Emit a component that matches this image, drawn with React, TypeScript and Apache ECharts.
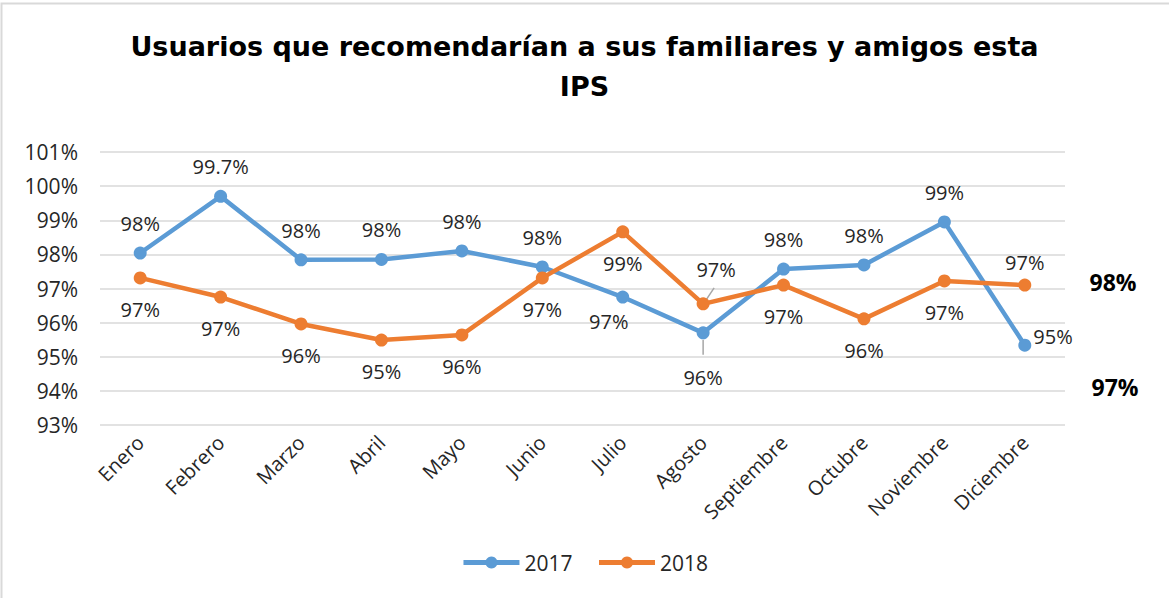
import React, { useEffect, useRef } from "react";
import * as echarts from "echarts";

const months = ["Enero", "Febrero", "Marzo", "Abril", "Mayo", "Junio", "Julio", "Agosto", "Septiembre", "Octubre", "Noviembre", "Diciembre"];
const values2017 = [98.04, 99.7, 97.84, 97.85, 98.1, 97.63, 96.75, 95.7, 97.57, 97.69, 98.95, 95.34];
const values2018 = [97.31, 96.75, 95.96, 95.49, 95.64, 97.31, 98.66, 96.55, 97.1, 96.11, 97.22, 97.1];
const yTicks = [93, 94, 95, 96, 97, 98, 99, 100, 101];
const sideNotes = ["98%", "97%"];
const titleText = "Usuarios que recomendarían a sus familiares y amigos esta\nIPS";

const FONT = "'Open Sans', 'Noto Sans', sans-serif";
const TITLE_FONT = "'DejaVu Sans', sans-serif";
const BLUE = "#5B9BD5";
const ORANGE = "#ED7D31";
const TXT = "#262626";

export default function App() {
  const ref = useRef<HTMLDivElement>(null);
  useEffect(() => {
    if (!ref.current) return;
    const chart = echarts.init(ref.current, null, { renderer: "svg" });
    const fmt = (v: number, dec = 0) => v.toFixed(dec) + "%";

    const d2017 = values2017.map((v, i) => {
      const item: any = { value: v };
      if (i === 1) item.label = { formatter: () => fmt(v, 1) };
      if (i === 6) item.label = { position: "bottom", distance: 8, offset: [-14, 0] };
      if (i === 7) item.label = { position: "bottom", distance: 28 };
      if (i === 11) item.label = { position: "right", distance: 2, offset: [0, -9] };
      return item;
    });
    const d2018 = values2018.map((v, i) => {
      const item: any = { value: v };
      if (i === 7) item.label = { position: "top", distance: 18, offset: [13, 0] };
      if (i === 11) item.label = { position: "top", distance: 6 };
      return item;
    });

    const labelBase = {
      show: true,
      fontFamily: FONT,
      fontSize: 20,
      color: TXT,
      formatter: (p: any) => fmt(p.value),
    };

    chart.setOption({
      animation: false,
      textStyle: { fontFamily: FONT },
      title: {
        text: titleText,
        left: "center",
        top: 21,
        textStyle: { fontFamily: TITLE_FONT, fontSize: 27, fontWeight: "bold", color: "#000", lineHeight: 40 },
      },
      legend: {
        bottom: 20,
        left: "center",
        itemWidth: 56,
        itemHeight: 15,
        itemGap: 24,
        lineStyle: { width: 5 },
        textStyle: { fontFamily: FONT, fontSize: 21, color: TXT },
        data: ["2017", "2018"],
      },
      grid: { left: 100, right: 104, top: 152, bottom: 173, containLabel: false },
      xAxis: {
        type: "category",
        data: months,
        boundaryGap: true,
        axisLine: { show: false },
        axisTick: { show: false },
        axisLabel: { rotate: 45, fontFamily: FONT, fontSize: 20, color: TXT, margin: 14, interval: 0 },
      },
      yAxis: {
        type: "value",
        min: 93,
        max: 101,
        interval: 1,
        axisLine: { show: false },
        axisTick: { show: false },
        splitLine: { lineStyle: { color: "#d9d9d9", width: 1.5 } },
        axisLabel: {
          fontFamily: FONT,
          fontSize: 21,
          color: TXT,
          margin: 22,
          formatter: (v: number) => (yTicks.includes(v) ? v + "%" : ""),
        },
      },
      series: [
        {
          name: "2017",
          type: "line",
          data: d2017,
          symbol: "circle",
          symbolSize: 13,
          lineStyle: { color: BLUE, width: 4.5 },
          itemStyle: { color: BLUE },
          label: { ...labelBase, position: "top", distance: 13 },
          z: 3,
        },
        {
          name: "2018",
          type: "line",
          data: d2018,
          symbol: "circle",
          symbolSize: 13,
          lineStyle: { color: ORANGE, width: 4.5 },
          itemStyle: { color: ORANGE },
          label: { ...labelBase, position: "bottom", distance: 15 },
          z: 4,
        },
      ],
    });

    const p17 = chart.convertToPixel({ gridIndex: 0 }, [7, values2017[7]]) as number[];
    const p18 = chart.convertToPixel({ gridIndex: 0 }, [7, values2018[7]]) as number[];
    const yA = chart.convertToPixel({ gridIndex: 0 }, [11, 97.2]) as number[];
    const yB = chart.convertToPixel({ gridIndex: 0 }, [11, 94.1]) as number[];

    chart.setOption({
      graphic: [
        {
          type: "rect",
          shape: { x: 1.5, y: 3.5, width: 1300, height: 800 },
          style: { fill: "none", stroke: "#d9d9d9", lineWidth: 2 },
          silent: true,
          z: -10,
        },
        {
          type: "line",
          shape: { x1: p17[0], y1: p17[1] + 7, x2: p17[0], y2: p17[1] + 22 },
          style: { stroke: "#a6a6a6", lineWidth: 1.5 },
          z: 1,
        },
        {
          type: "line",
          shape: { x1: p18[0] + 3, y1: p18[1] - 4, x2: p18[0] + 11, y2: p18[1] - 16 },
          style: { stroke: "#a6a6a6", lineWidth: 1.5 },
          z: 1,
        },
        {
          type: "text",
          x: 1113,
          y: yA[1],
          style: { text: sideNotes[0], fontFamily: FONT, fontSize: 23, fontWeight: "bold", fill: "#000", align: "center", verticalAlign: "middle" },
        },
        {
          type: "text",
          x: 1115,
          y: yB[1],
          style: { text: sideNotes[1], fontFamily: FONT, fontSize: 23, fontWeight: "bold", fill: "#000", align: "center", verticalAlign: "middle" },
        },
      ],
    });

    return () => chart.dispose();
  }, []);

  return <div ref={ref} style={{ position: "fixed", left: 0, top: 0, width: 1169, height: 598, background: "#fff" }} />;
}
